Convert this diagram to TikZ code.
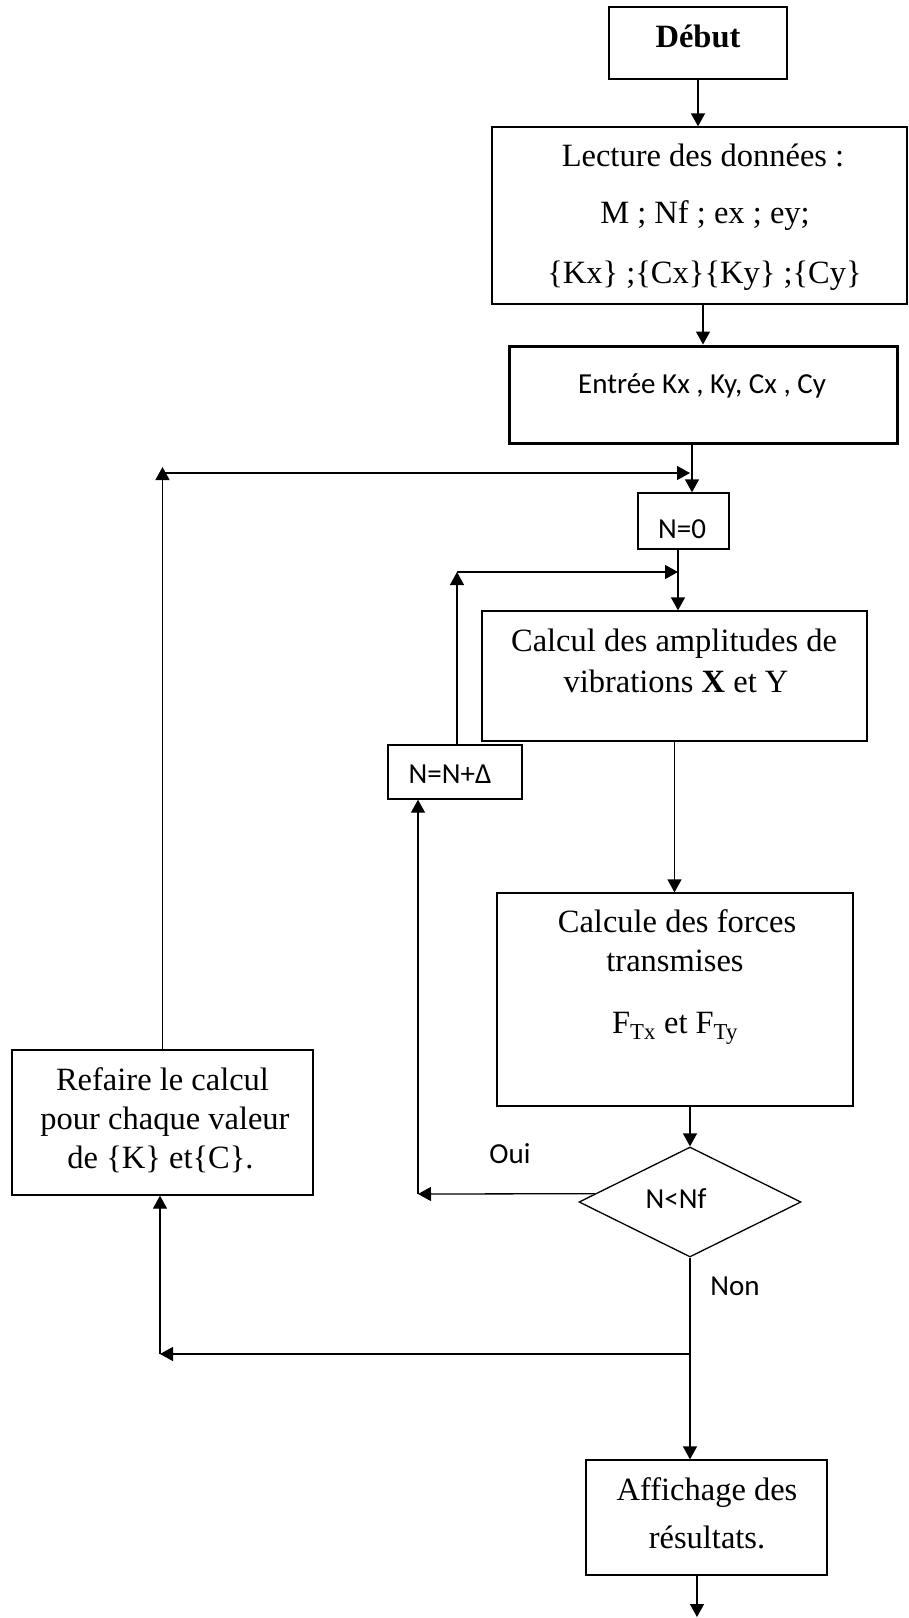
\documentclass[tikz,border=0pt]{standalone}
\usepackage{fontspec}
\setmainfont{Liberation Serif}
\newfontfamily\sansfam{Carlito}
\usetikzlibrary{arrows.meta,shapes.geometric}
\begin{document}
\begin{tikzpicture}[x=1pt,y=-1pt,
  box/.style={draw, line width=1.3pt, inner sep=0pt, rectangle},
  thickbox/.style={draw, line width=3pt, inner sep=0pt, rectangle},
  arr/.style={line width=1.3pt, -{Triangle[length=13pt,width=14pt]}},
  txt/.style={font=\fontsize{32.5}{38}\selectfont, inner sep=0pt, anchor=base},
  stxt/.style={font=\sansfam\fontsize{29}{34}\selectfont, inner sep=0pt, anchor=base}]
\path[use as bounding box] (0,0) rectangle (909,1618);

% boxes
\node[box, minimum width=178pt, minimum height=72pt] (debut) at (698,43) {};
\node[box, minimum width=415pt, minimum height=177pt] (lect) at (699.5,215.5) {};
\node[thickbox, minimum width=388pt, minimum height=97pt] (entree) at (703,394.5) {};
\node[box, minimum width=91pt, minimum height=56pt] (n0) at (683.5,521) {};
\node[box, minimum width=385pt, minimum height=130pt] (calc) at (674.5,676) {};
\node[box, minimum width=134pt, minimum height=54pt] (nn) at (455,772) {};
\node[box, minimum width=356pt, minimum height=213pt] (forces) at (675,999.5) {};
\node[box, minimum width=301pt, minimum height=145pt] (refaire) at (162.5,1122.5) {};
\node[draw, line width=1.3pt, diamond, inner sep=0pt, minimum width=222pt, minimum height=110pt] (d) at (690,1202) {};
\node[box, minimum width=241pt, minimum height=115pt] (aff) at (706.5,1517.5) {};

% texts
\node[txt] (tdebut) at (698,47) {\textbf{Début}};
\node[txt] (tl1) at (703,166) {Lecture des données :};
\node[txt] (tl2) at (705,223) {M ; Nf ; ex ; ey;};
\node[txt] (tl3) at (704.5,283) {\{Kx\} ;\{Cx\}\{Ky\} ;\{Cy\}};
\node[stxt] (tent) at (702,393) {Entrée Kx , Ky, Cx , Cy};
\node[stxt] (tn0) at (682,538) {N=0};
\node[txt] (tc1) at (674,651) {Calcul des amplitudes de};
\node[txt] (tc2) at (676,692) {vibrations \textbf{X} et Y};
\node[stxt] (tnn) at (450,783) {N=N+Δ};
\node[txt] (tf1) at (677,932) {Calcule des forces};
\node[txt] (tf2) at (675,971) {transmises};
\node[txt] (tf3) at (675,1033) {F\textsubscript{Tx} et F\textsubscript{Ty}};
\node[txt] (tr1) at (162.5,1090) {Refaire le calcul};
\node[txt] (tr2) at (165,1129) {pour chaque valeur};
\node[txt] (tr3) at (160.5,1168) {de \{K\} et\{C\}.};
\node[stxt] (toui) at (510,1163) {Oui};
\node[stxt] (td) at (676,1208) {N<Nf};
\node[stxt] (tnon) at (735,1295) {Non};
\node[txt] (ta1) at (707,1500) {Affichage des};
\node[txt] (ta2) at (707,1548) {résultats.};

% junction coordinates
\coordinate (j1) at (690,1354);
\coordinate (j2) at (160,1354);
\coordinate (j4) at (418,1194);
\coordinate (j5) at (457,572);
\coordinate (j6) at (678,572);
\coordinate (j7) at (162.5,467);
\coordinate (j8) at (162.5,473);
\coordinate (j9) at (690,473);
\coordinate (x692) at (692,0);
\coordinate (x697) at (697,0);
\coordinate (endb) at (697,1617);

% connectors
\draw[arr] (debut.south) -- (debut.south |- lect.north);
\draw[arr] (lect.south -| entree.north) -- (entree.north);
\draw[arr] (entree.south -| x692) -- (n0.north -| x692);
\draw[arr] (n0.south -| j6) -- (calc.north -| j6);
\draw[arr] (calc.south) -- (calc.south |- forces.north);
\draw[arr] (forces.south -| d.north) -- (d.north);
\draw[arr] (d.175) -- (j4);
\draw[arr] (j4) -- (j4 |- nn.south);
\draw[arr] (nn.north -| j5) -- (j5);
\draw[arr] (j5) -- (j6);
\draw[arr] (d.south) -- (d.south |- aff.north);
\draw[arr] (j1) -- (j2);
\draw[arr] (j2) -- (j2 |- refaire.south);
\draw[arr] (refaire.north) -- (j7);
\draw[arr] (j8) -- (j9);
\draw[arr] (aff.south -| x697) -- (endb);
\end{tikzpicture}
\end{document}
